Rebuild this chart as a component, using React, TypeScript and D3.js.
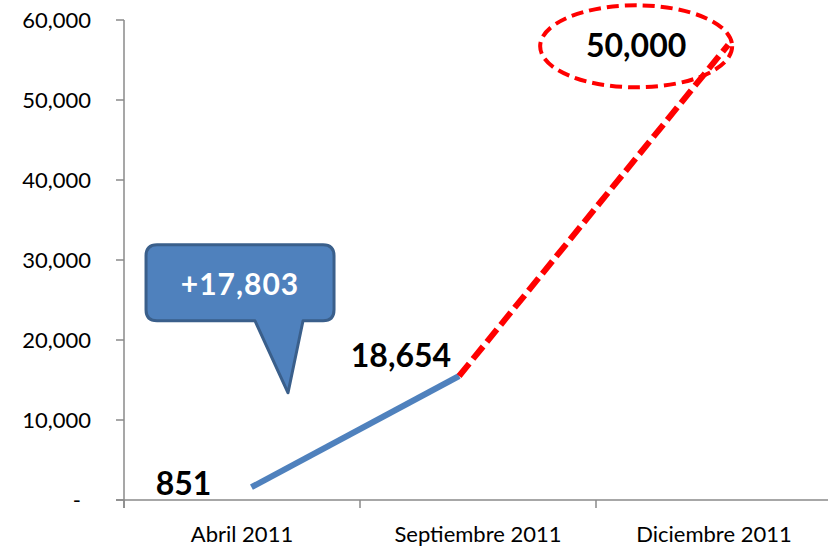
import React from "react";
import * as d3 from "d3";

const categories = ["Abril 2011", "Septiembre 2011", "Diciembre 2011"];
const yTickValues = [0, 10000, 20000, 30000, 40000, 50000, 60000];
const yTickLabels = ["-", "10,000", "20,000", "30,000", "40,000", "50,000", "60,000"];

// positions are in category units (0 = Abril, 1 = Septiembre, 2 = Diciembre)
const actualPos = [0.04, 0.92];
const actualValues = [1600, 15500];
const projectionPos = [0.92, 2.06];
const projectionValues = [15500, 56900];

const pointLabels = ["851", "18,654", "50,000"];
const growthLabel = "+17,803";
// callout tip in data units
const calloutTipPos = 0.195;
const calloutTipValue = 13400;

const W = 828;
const H = 547;
const FONT = "Lato, 'Open Sans', 'Liberation Sans', sans-serif";

export default function App() {
  const x = d3.scaleBand<string>().domain(categories).range([124, 832]).padding(0);
  const y = d3.scaleLinear().domain([0, 60000]).range([500, 20]);
  const center = (i: number) => (x(categories[i]) as number) + x.bandwidth() / 2;
  const xPos = d3.scaleLinear().domain([0, 2]).range([center(0), center(2)]);

  const line = d3
    .line<[number, number]>()
    .x((d) => xPos(d[0]))
    .y((d) => y(d[1]));

  const actual: [number, number][] = actualPos.map((p, i) => [p, actualValues[i]]);
  const projection: [number, number][] = projectionPos.map((p, i) => [p, projectionValues[i]]);

  const start = { x: xPos(actual[0][0]), y: y(actual[0][1]) };
  const mid = { x: xPos(actual[1][0]), y: y(actual[1][1]) };
  const end = { x: xPos(projection[1][0]), y: y(projection[1][1]) };

  // callout geometry
  const tipX = xPos(calloutTipPos);
  const tipY = y(calloutTipValue);
  const bx0 = tipX - 142;
  const bx1 = tipX + 46;
  const by0 = tipY - 148;
  const by1 = tipY - 72;
  const r = 11;
  const calloutPath = [
    `M${bx0 + r},${by0}`,
    `L${bx1 - r},${by0}`,
    `Q${bx1},${by0} ${bx1},${by0 + r}`,
    `L${bx1},${by1 - r}`,
    `Q${bx1},${by1} ${bx1 - r},${by1}`,
    `L${tipX + 15},${by1}`,
    `L${tipX},${tipY}`,
    `L${tipX - 33},${by1}`,
    `L${bx0 + r},${by1}`,
    `Q${bx0},${by1} ${bx0},${by1 - r}`,
    `L${bx0},${by0 + r}`,
    `Q${bx0},${by0} ${bx0 + r},${by0}`,
    "Z",
  ].join(" ");

  const axisColor = "#8a8a8a";
  const xTicks = [...categories.map((c) => x(c) as number), 832];

  return (
    <svg
      width={W}
      height={H}
      style={{ position: "absolute", left: 0, top: 0, background: "#fff" }}
      fontFamily={FONT}
    >
      {/* y axis */}
      <line x1={124} x2={124} y1={y(60000)} y2={y(0) + 8} stroke={axisColor} strokeWidth={1.5} />
      {yTickValues.map((v, i) => (
        <g key={v}>
          <line x1={116} x2={124} y1={y(v)} y2={y(v)} stroke={axisColor} strokeWidth={1.5} />
          <text
            x={v === 0 ? 81 : 91}
            y={y(v)}
            dy="0.36em"
            textAnchor="end"
            fontSize={22}
            fill="#000"
          >
            {yTickLabels[i]}
          </text>
        </g>
      ))}

      {/* x axis */}
      <line x1={116} x2={832} y1={y(0)} y2={y(0)} stroke={axisColor} strokeWidth={1.5} />
      {xTicks.map((t, i) => (
        <line key={i} x1={t} x2={t} y1={y(0)} y2={y(0) + 8} stroke={axisColor} strokeWidth={1.5} />
      ))}
      {categories.map((c, i) => (
        <text key={c} x={center(i)} y={542} textAnchor="middle" fontSize={22} fill="#000">
          {c}
        </text>
      ))}

      {/* actual series */}
      <path d={line(actual) as string} fill="none" stroke="#4F81BD" strokeWidth={6} />
      {/* projection */}
      <path
        d={line(projection) as string}
        fill="none"
        stroke="#FF0000"
        strokeWidth={6}
        strokeDasharray="16 6"
      />

      {/* ellipse around target */}
      <ellipse
        cx={end.x - 92}
        cy={end.y + 1.5}
        rx={96}
        ry={41}
        fill="none"
        stroke="#FF0000"
        strokeWidth={4}
        strokeDasharray="12 6"
      />

      {/* point labels */}
      <text x={start.x - 40} y={495} textAnchor="end" fontSize={32} fontWeight={700} fill="#000">
        {pointLabels[0]}
      </text>
      <text x={mid.x - 8} y={mid.y - 9} textAnchor="end" fontSize={32} fontWeight={700} fill="#000">
        {pointLabels[1]}
      </text>
      <text x={end.x - 92} y={end.y + 12} textAnchor="middle" fontSize={32} fontWeight={700} fill="#000">
        {pointLabels[2]}
      </text>

      {/* callout */}
      <path d={calloutPath} fill="#4F81BD" stroke="#3A5F8B" strokeWidth={3} strokeLinejoin="round" />
      <text
        x={(bx0 + bx1) / 2}
        y={by0 + 50}
        textAnchor="middle"
        fontSize={30}
        fontWeight={700}
        letterSpacing={1}
        fill="#fff"
      >
        {growthLabel}
      </text>
    </svg>
  );
}
